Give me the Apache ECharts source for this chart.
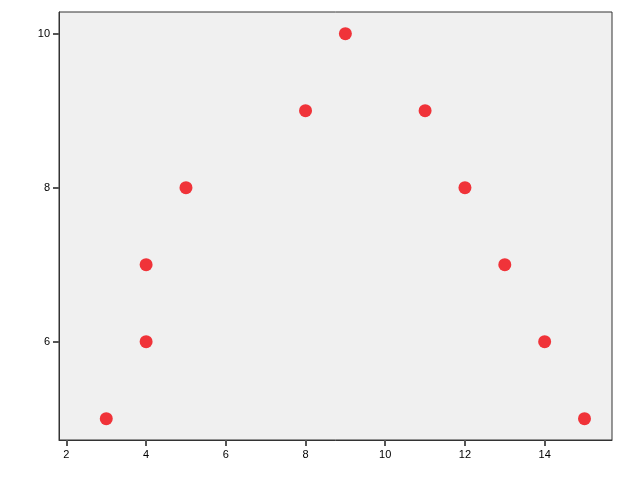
<!DOCTYPE html>
<html>
<head>
<meta charset="utf-8">
<script src="https://cdn.jsdelivr.net/npm/echarts@6/dist/echarts.min.js"></script>
<style>
html,body{margin:0;padding:0;background:#fff;}
#chart{width:625px;height:500px;}
</style>
</head>
<body>
<div id="chart"></div>
<script>
var xValues = [3, 4, 4, 5, 8, 9, 11, 12, 13, 14, 15];
var yValues = [5, 6, 7, 8, 9, 10, 9, 8, 7, 6, 5];
var xTicks = [2, 4, 6, 8, 10, 12, 14];
var yTicks = [6, 8, 10];

var points = xValues.map(function (x, i) { return [x, yValues[i]]; });

var chart = echarts.init(document.getElementById('chart'));
chart.setOption({
  animation: false,
  backgroundColor: '#ffffff',
  grid: {
    left: 59, right: 13, top: 12, bottom: 60,
    show: true, backgroundColor: '#f0f0f0', borderColor: '#333333', borderWidth: 1
  },
  xAxis: {
    type: 'value',
    min: 1.814, max: 15.69,
    splitLine: { show: false },
    axisLine: { show: true, lineStyle: { color: '#333333', width: 1 } },
    axisTick: { show: true, customValues: xTicks, length: 6, lineStyle: { color: '#555555', width: 2 } },
    axisLabel: { customValues: xTicks, color: '#000000', fontFamily: 'Liberation Sans, Arial, sans-serif', fontSize: 11, margin: 9 }
  },
  yAxis: {
    type: 'value',
    min: 4.723, max: 10.281,
    splitLine: { show: false },
    axisLine: { show: true, lineStyle: { color: '#333333', width: 1 } },
    axisTick: { show: true, customValues: yTicks, length: 6, lineStyle: { color: '#555555', width: 2 } },
    axisLabel: { customValues: yTicks, color: '#000000', fontFamily: 'Liberation Sans, Arial, sans-serif', fontSize: 11, margin: 9 }
  },
  series: [{
    type: 'scatter',
    data: points,
    symbol: 'circle',
    symbolSize: 13,
    itemStyle: { color: '#f03339', opacity: 1 }
  }]
});
</script>
</body>
</html>
